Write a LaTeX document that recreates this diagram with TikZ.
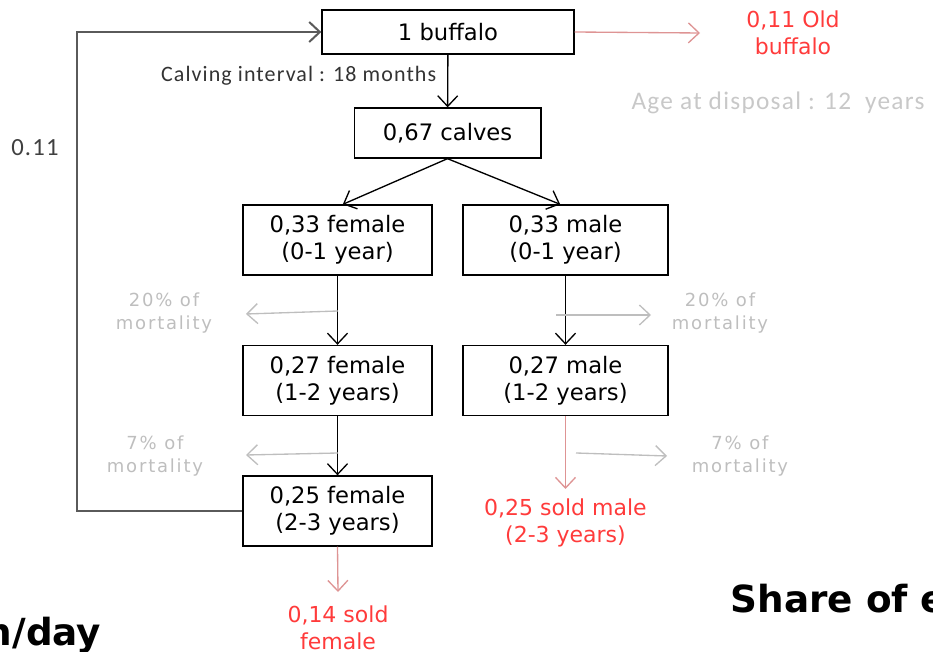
\documentclass[tikz,border=0pt]{standalone}
\usepackage{fontspec}
\setmainfont{DejaVu Sans}
\newfontfamily\calfont[LetterSpace=5]{Carlito}
\newfontfamily\mortfont[LetterSpace=10]{DejaVu Sans}
\usepackage{xcolor}
\definecolor{soldred}{HTML}{FF3B3B}
\definecolor{soldline}{HTML}{DE9494}
\definecolor{mortgray}{HTML}{BEBEBE}
\definecolor{loopgray}{HTML}{5A5A5A}
\usetikzlibrary{arrows.meta}

\begin{document}
\begin{tikzpicture}[x=0.75pt,y=-0.75pt,
  stagebox/.style={draw,line width=1pt,align=center,inner sep=0pt,
    font=\fontsize{17}{20.5}\selectfont},
  herdbox/.style={stagebox,minimum width=141.75pt,minimum height=52.5pt},
  flow/.style={-{Straight Barb[length=8pt,width=15pt]},line width=1pt},
  sold/.style={flow,draw=soldline},
  loss/.style={flow,draw=mortgray},
  soldtext/.style={align=center,text=soldred,font=\fontsize{16.5}{20.5}\selectfont},
  losstext/.style={align=center,text=mortgray,font=\mortfont\fontsize{13.5}{17}\selectfont}]
\useasboundingbox (0,0) rectangle (933,652);

% herd structure
\node[stagebox,minimum width=189pt,minimum height=33pt] (buffalo) at (448,32) {1 buffalo};
\node[stagebox,minimum width=140pt,minimum height=37.5pt] (calves) at (447.5,133) {0,67 calves};
\node[herdbox] (fem1) at (337.5,240) {0,33 female\\(0-1 year)};
\node[herdbox,minimum width=153.75pt] (male1) at (565.5,240) {0,33 male\\(0-1 year)};
\node[herdbox] (fem2) at (337.5,380.5) {0,27 female\\(1-2 years)};
\node[herdbox,minimum width=153.75pt] (male2) at (565.5,380.5) {0,27 male\\(1-2 years)};
\node[herdbox] (fem3) at (337.5,511) {0,25 female\\(2-3 years)};

\draw[flow] (buffalo) -- (calves);
\draw[flow] (calves.south) -- ([xshift=4pt]fem1.north);
\draw[flow] (calves.south) -- ([xshift=-4pt]male1.north);
\draw[flow] (fem1) -- (fem2);
\draw[flow] (fem2) -- (fem3);
\draw[flow] (male1) -- (male2);

% replacement loop
\coordinate (loopbot) at (77,511);
\coordinate (looptop) at (77,32);
\draw[flow,draw=loopgray,line width=1.5pt] (fem3.west) -- (loopbot) -- (looptop) -- (buffalo.west);
\node[font=\calfont\fontsize{18.5}{20}\selectfont,text=black!75] (rate) at (35,148) {0.11};
\node[font=\calfont\fontsize{16.5}{18}\selectfont,text=black!80,anchor=east] (calving) at (441,76) {Calving interval : 18 months};

% sales
\node[soldtext] (oldsold) at (793,33) {0,11 Old\\buffalo};
\node[font=\calfont\fontsize{19}{21}\selectfont,text=mortgray!85] (disposal) at (778,103) {Age at disposal : 12~~years};
\node[soldtext] (malesold) at (565.5,523) {0,25 sold male\\(2-3 years)};
\node[soldtext,anchor=north] (femsold) at (338,601) {0,14 sold\\female};
\draw[sold] (buffalo.east) -- (700,33);
\draw[sold] (male2.south) -- (565.5,489);
\draw[sold] (fem3.south) -- (338,592);

% mortality
\node[losstext] (lossf1) at (164,313) {20\% of\\mortality};
\node[losstext] (lossm1) at (720,313) {20\% of\\mortality};
\node[losstext] (lossf2) at (155,456) {7\% of\\mortality};
\node[losstext] (lossm2) at (740,456) {7\% of\\mortality};
\draw[loss] (338,311) -- (246,314);
\draw[loss] (556,315) -- (651,315);
\draw[loss] (338,453) -- (246,455);
\draw[loss] (576,453) -- (667,456);

% titles behind
\node[font=\bfseries\fontsize{28}{30}\selectfont,anchor=base west] (share) at (726,612) {Share of e};
\node[font=\bfseries\fontsize{28}{30}\selectfont,anchor=base east] (perday) at (106,645) {n/day};
\end{tikzpicture}
\end{document}
